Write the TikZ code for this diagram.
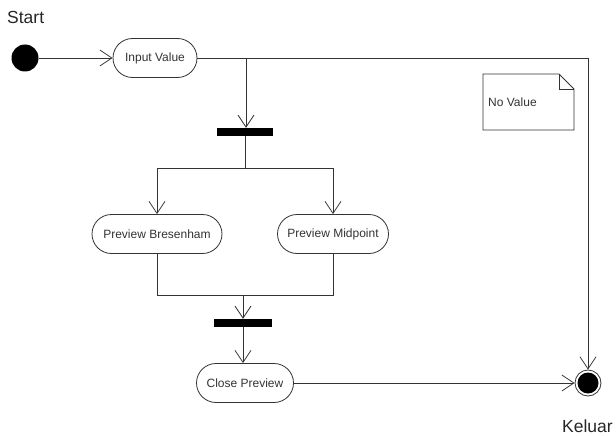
\documentclass[tikz,border=0pt]{standalone}
\usepackage{fontspec}
\setmainfont{Liberation Sans}
\usetikzlibrary{shapes.misc,arrows.meta}
\tikzset{
  act/.style={rounded rectangle, draw=black!80, line width=0.8pt, minimum height=39pt, inner sep=0pt, font=\fontsize{12}{14}\selectfont, text=black!80},
  bar/.style={rectangle, fill=black, inner sep=0pt, minimum height=8pt},
  flow/.style={draw=black!80, line width=0.8pt, -{Straight Barb[length=12pt,width=16pt,line width=0.8pt]}},
  plain/.style={draw=black!80, line width=0.8pt},
  biglbl/.style={font=\fontsize{17.5}{20}\selectfont, text=black!85, inner sep=0pt, anchor=west},
}
\begin{document}
\begin{tikzpicture}[x=1pt,y=-1pt]
\useasboundingbox (0,0) rectangle (616,436);
% start
\node[biglbl] (startlbl) at (7,17) {Start};
\node[circle, fill=black, minimum size=27pt, inner sep=0pt] (start) at (25,58) {};
% actions
\node[act, minimum width=84pt] (input) at (155,58) {Input Value};
\node[act, minimum width=130pt] (bres) at (157,234) {Preview Bresenham};
\node[act, minimum width=111pt] (mid) at (333,234) {Preview Midpoint};
\node[act, minimum width=97pt] (close) at (245,383) {Close Preview};
% bars
\node[bar, minimum width=56pt] (fork) at (245,132) {};
\node[bar, minimum width=58pt] (join) at (243,323) {};
% final
\node[circle, draw=black!80, line width=0.8pt, minimum size=26pt, inner sep=0pt] (final) at (588,383) {};
\node[circle, fill=black, minimum size=21pt, inner sep=0pt] at (final) {};
\node[biglbl] (keluar) at (562,426) {Keluar};
% note
\coordinate (n1) at (483,74);
\coordinate (n2) at (559,74);
\coordinate (n3) at (574,89);
\coordinate (n4) at (574,130);
\coordinate (n5) at (483,130);
\draw[plain] (n1) -- (n2) -- (n3) -- (n4) -- (n5) -- cycle;
\draw[plain] (n2) -- (559,89) -- (n3);
\node[anchor=west, inner sep=0pt, font=\fontsize{12}{14}\selectfont, text=black!80] (note) at (488,102) {No Value};
% coordinates
\coordinate (topsplit) at (246,58);
\coordinate (topright) at (588,58);
\coordinate (forkL) at (157,168);
\coordinate (forkR) at (333,168);
\coordinate (forkM) at (245,168);
\coordinate (joinL) at (157,295);
\coordinate (joinR) at (333,295);
\coordinate (joinM) at (243,295);
% connectors
\draw[flow] (start) -- (input);
\draw[plain] (input.east) -- (topright);
\draw[flow] (topright) -- (final);
\draw[flow] (topsplit) -- (fork.north -| topsplit);
\draw[plain] (fork.south) -- (forkM);
\draw[flow] (forkM) -- (forkL) -- (bres.north);
\draw[flow] (forkM) -- (forkR) -- (mid.north);
\draw[plain] (bres.south) -- (joinL) -- (joinR) -- (mid.south);
\draw[flow] (joinM) -- (join.north);
\draw[flow] (join.south) -- (close.north -| join.south);
\draw[flow] (close.east) -- (final);
\end{tikzpicture}
\end{document}
